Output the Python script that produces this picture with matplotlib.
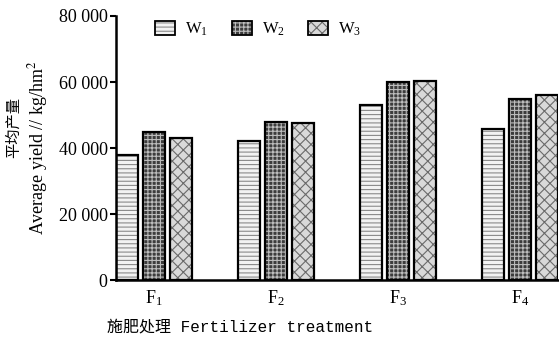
import numpy as np
import matplotlib.pyplot as plt
from matplotlib.patches import Patch
from matplotlib.legend_handler import HandlerTuple

# data
treatments = ['$\\mathregular{F_1}$', '$\\mathregular{F_2}$', '$\\mathregular{F_3}$', '$\\mathregular{F_4}$']
series_names = ['$\\mathregular{W_1}$', '$\\mathregular{W_2}$', '$\\mathregular{W_3}$']
w1 = [37800, 42100, 53000, 45800]
w2 = [44800, 47900, 60100, 54800]
w3 = [43200, 47600, 60400, 56100]
y_ticks = [0, 20000, 40000, 60000, 80000]
y_tick_labels = ['0', '20 000', '40 000', '60 000', '80 000']

plt.rcParams['font.family'] = ['Liberation Serif', 'Noto Sans CJK SC']
plt.rcParams['mathtext.fontset'] = 'stix'
plt.rcParams['hatch.linewidth'] = 0.8

fig = plt.figure(figsize=(5.59, 3.40), dpi=100)
ax = fig.add_axes([0.2075, 0.176, 0.79, 0.777])

x = np.arange(len(treatments))
width = 0.18
step = 0.22
# (face colour, hatch colour, hatch) for W1, W2, W3
styles = [('#f2f2f2', '#8a8a8a', '----'),
          ('#3c3c3c', '#bdbdbd', '++++'),
          ('#d9d9d9', '#6a6a6a', 'xxx')]

handles = []
for i, (vals, (face, hcol, hatch)) in enumerate(zip([w1, w2, w3], styles)):
    pos = x + (i - 1) * step
    ax.bar(pos, vals, width, color=face, edgecolor=hcol, hatch=hatch, linewidth=0)
    ax.bar(pos, vals, width, fill=False, edgecolor='black', linewidth=1.6)
    handles.append((Patch(facecolor=face, edgecolor=hcol, hatch=hatch, linewidth=0),
                    Patch(fill=False, edgecolor='black', linewidth=1.3)))

ax.set_xlim(-0.31, 3.31)
ax.set_ylim(0, 80000)
ax.set_yticks(y_ticks)
ax.set_yticklabels(y_tick_labels, fontsize=13)
ax.set_xticks(x)
ax.set_xticklabels(treatments, fontsize=13)
ax.tick_params(axis='x', length=0, pad=6)
ax.tick_params(axis='y', direction='out', length=4, width=1.5, pad=2)
for s in ['top', 'right']:
    ax.spines[s].set_visible(False)
for s in ['left', 'bottom']:
    ax.spines[s].set_linewidth(1.8)

ax.legend(handles, series_names, handler_map={tuple: HandlerTuple(ndivide=1, pad=0)},
          loc='upper left', bbox_to_anchor=(0.055, 1.04), ncol=3, frameon=False,
          fontsize=12, handlelength=1.2, handleheight=0.9, columnspacing=1.4,
          handletextpad=0.6)

fig.text(0.43, 0.038, '施肥处理 Fertilizer treatment', ha='center', va='center',
         fontsize=11.5, family=['Liberation Mono', 'Noto Sans CJK SC'])
fig.text(0.068, 0.565, 'Average yield // kg/hm$^2$', rotation=90, ha='center', va='center',
         fontsize=13)
fig.text(0.024, 0.625, '平均产量', rotation=90, ha='center', va='center',
         fontsize=11, family=['Noto Sans CJK SC'])

fig.savefig('out.png', dpi=100)
